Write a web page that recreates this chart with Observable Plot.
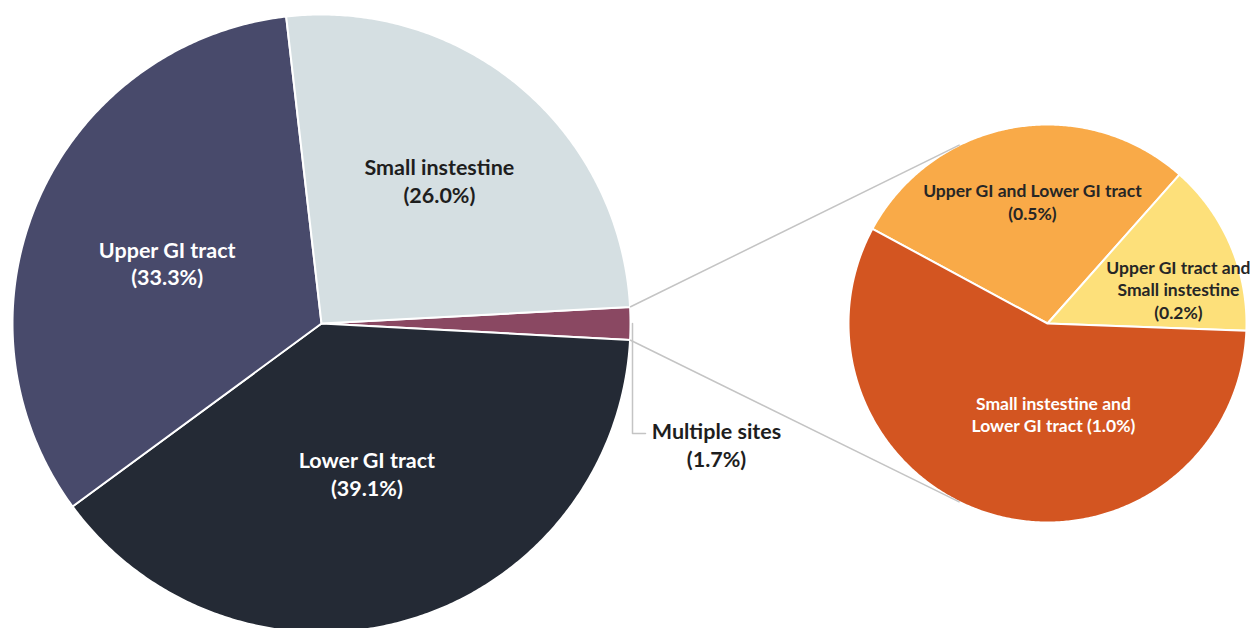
<!DOCTYPE html>
<html>
<head>
<meta charset="utf-8">
<script src="https://cdn.jsdelivr.net/npm/d3@7"></script>
<script src="https://cdn.jsdelivr.net/npm/@observablehq/plot@0.6"></script>
<style>
  html, body { margin: 0; padding: 0; background: #ffffff; }
  #chart { width: 1250px; height: 628px; overflow: hidden; }
</style>
</head>
<body>
<div id="chart"></div>
<script>
// ---------- DATA ----------
// Main pie, listed clockwise starting with the exploded "Multiple sites" slice
const mainCategories = ["Multiple sites", "Lower GI tract", "Upper GI tract", "Small instestine"];
const mainValues = [1.7, 39.1, 33.3, 26.0];
const mainLabels = ["Multiple sites\n(1.7%)", "Lower GI tract\n(39.1%)", "Upper GI tract\n(33.3%)", "Small instestine\n(26.0%)"];

// Breakdown of "Multiple sites" (second pie), clockwise
const subCategories = ["Upper GI and Lower GI tract", "Upper GI tract and Small instestine", "Small instestine and Lower GI tract"];
const subValues = [0.49, 0.24, 0.98]; // shares
const subLabels = ["Upper GI and Lower GI tract\n(0.5%)", "Upper GI tract and\nSmall instestine\n(0.2%)", "Small instestine and\nLower GI tract (1.0%)"];

// ---------- STYLE / LAYOUT ----------
const mainColors = {"Multiple sites": "#8a4862", "Lower GI tract": "#242a35", "Upper GI tract": "#484a6b", "Small instestine": "#d5dfe2"};
const subColors = {"Upper GI and Lower GI tract": "#f9aa48", "Upper GI tract and Small instestine": "#fde07a", "Small instestine and Lower GI tract": "#d35521"};
const mainText = {"Multiple sites": "#1e1e1e", "Lower GI tract": "#ffffff", "Upper GI tract": "#ffffff", "Small instestine": "#1e1e1e"};
const subText = {"Upper GI and Lower GI tract": "#262626", "Upper GI tract and Small instestine": "#262626", "Small instestine and Lower GI tract": "#ffffff"};
// label placement: fraction of radius, angular nudge (degrees)
const mainLabelPos = {"Lower GI tract": [0.507, -0.2], "Upper GI tract": [0.537, -2], "Small instestine": [0.60, -0.7]};
const subLabelPos = {"Upper GI and Lower GI tract": [0.62, 3], "Upper GI tract and Small instestine": [0.68, 8.5], "Small instestine and Lower GI tract": [0.455, -19]};

const W = 1250, H = 628;
const mainPie = {cx: 321, cy: 323, r: 309};
const subPie = {cx: 1047, cy: 323, r: 199};
const subStartDeg = -61.6;

// ---------- GEOMETRY ----------
const rad = Math.PI / 180;
const mainTotal = d3.sum(mainValues);
const mainStart = Math.PI / 2 - (mainValues[0] / mainTotal) * Math.PI; // center "Multiple sites" at 3 o'clock
const mainArcs = d3.pie().sort(null).startAngle(mainStart).endAngle(mainStart + 2 * Math.PI)
  (mainValues).map((a, i) => ({...a, key: mainCategories[i], label: mainLabels[i]}));
const subArcs = d3.pie().sort(null).startAngle(subStartDeg * rad).endAngle(subStartDeg * rad + 2 * Math.PI)
  (subValues).map((a, i) => ({...a, key: subCategories[i], label: subLabels[i]}));

const polar = (p, r, a) => ({x: p.cx + r * Math.sin(a), y: p.cy - r * Math.cos(a)});
function wedge(p, arc) {
  const pts = [{x: p.cx, y: p.cy}];
  const n = Math.max(2, Math.ceil((arc.endAngle - arc.startAngle) / (Math.PI / 360)));
  for (let i = 0; i <= n; i++) pts.push(polar(p, p.r, arc.startAngle + (arc.endAngle - arc.startAngle) * i / n));
  return pts;
}
function labelPoint(p, arc, pos) {
  const mid = (arc.startAngle + arc.endAngle) / 2 + pos[1] * rad;
  return polar(p, p.r * pos[0], mid);
}

// connector lines: from the corners of "Multiple sites" slice, tangent to second pie
const ms = mainArcs[0];
const c0 = polar(mainPie, mainPie.r, ms.startAngle);
const c1 = polar(mainPie, mainPie.r, ms.endAngle);
function tangent(P, side) {
  const dx = subPie.cx - P.x, dy = subPie.cy - P.y;
  const d = Math.hypot(dx, dy);
  const base = Math.atan2(dy, dx);
  const off = Math.asin(subPie.r / d);
  const len = Math.sqrt(d * d - subPie.r * subPie.r);
  const ang = base + side * off;
  return {x1: P.x, y1: P.y, x2: P.x + len * Math.cos(ang), y2: P.y + len * Math.sin(ang)};
}
const connectors = [tangent(c0, -1), tangent(c1, 1)];

// "Multiple sites" outside label with elbow leader
const msOuter = polar(mainPie, mainPie.r, (ms.startAngle + ms.endAngle) / 2);
const msLabel = {x: msOuter.x + 86, y: msOuter.y + 121, text: ms.label};
const leader = [
  {x: msOuter.x + 2, y: msOuter.y},
  {x: msOuter.x + 2, y: msLabel.y - 11},
  {x: msLabel.x - 71, y: msLabel.y - 11}
];

const marks = [];
for (const a of mainArcs) {
  marks.push(Plot.line(wedge(mainPie, a), {x: "x", y: "y", curve: "linear-closed", fill: mainColors[a.key], stroke: "#ffffff", strokeWidth: 2, strokeLinejoin: "round"}));
}
for (const a of subArcs) {
  marks.push(Plot.line(wedge(subPie, a), {x: "x", y: "y", curve: "linear-closed", fill: subColors[a.key], stroke: "#ffffff", strokeWidth: 2, strokeLinejoin: "round"}));
}
marks.push(Plot.link(connectors, {x1: "x1", y1: "y1", x2: "x2", y2: "y2", stroke: "#c4c4c4", strokeWidth: 1.5}));
marks.push(Plot.line(leader, {x: "x", y: "y", stroke: "#c4c4c4", strokeWidth: 1.5}));

const mainLabelData = mainArcs.filter(a => mainLabelPos[a.key]).map(a => ({...labelPoint(mainPie, a, mainLabelPos[a.key]), text: a.label, color: mainText[a.key]}));
mainLabelData.push({...msLabel, color: mainText["Multiple sites"]});
const subLabelData = subArcs.map(a => ({...labelPoint(subPie, a, subLabelPos[a.key]), text: a.label, color: subText[a.key]}));

marks.push(Plot.text(mainLabelData, {x: "x", y: "y", text: "text", fill: d => d.color, fontSize: 21.5, fontWeight: "bold", lineHeight: 1.3, textAnchor: "middle"}));
marks.push(Plot.text(subLabelData, {x: "x", y: "y", text: "text", fill: d => d.color, fontSize: 17.5, fontWeight: "bold", lineHeight: 1.3, textAnchor: "middle"}));

const chart = Plot.plot({
  width: W, height: H,
  margin: 0,
  style: {fontFamily: "Lato, 'Open Sans', sans-serif", background: "#ffffff", overflow: "hidden"},
  x: {domain: [0, W], range: [0, W], axis: null},
  y: {domain: [0, H], range: [0, H], axis: null},
  color: {type: "identity"},
  marks
});
document.getElementById("chart").append(chart);
</script>
</body>
</html>
